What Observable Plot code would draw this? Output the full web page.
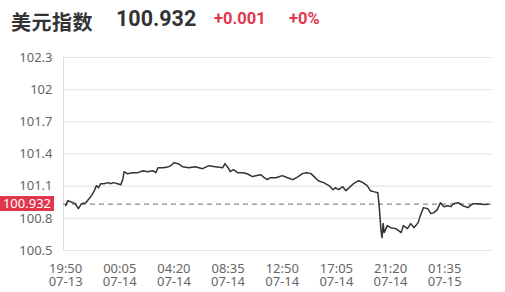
<!DOCTYPE html>
<html>
<head>
<meta charset="utf-8">
<script src="https://cdn.jsdelivr.net/npm/d3@7"></script>
<script src="https://cdn.jsdelivr.net/npm/@observablehq/plot@0.6"></script>
<style>
  html, body { margin: 0; padding: 0; background: #fff; }
  #wrap { position: relative; width: 505px; height: 292px; overflow: hidden; }
  #header { position: relative; height: 40px; }
  #header span { position: absolute; white-space: nowrap; }
  .t1 { left: 11px; top: 7px; font: bold 20px "Noto Sans CJK SC", sans-serif; color: #333; letter-spacing: 0.5px; }
  .t2 { left: 116px; top: 6px; font: bold 21.5px Roboto, sans-serif; color: #333; }
  .t3 { left: 214px; top: 9px; font: bold 16.5px Roboto, sans-serif; color: #e2364c; }
  .t4 { left: 289px; top: 9px; font: bold 16.5px Roboto, sans-serif; color: #e2364c; }
  #tag { position: absolute; left: 0; width: 54px; height: 15px; background: #e2364c; color: #fff;
         font: 13px "Noto Sans", sans-serif; line-height: 15px; text-align: center; }
</style>
</head>
<body>
<div id="wrap">
  <div id="header">
    <span class="t1">美元指数</span>
    <span class="t2">100.932</span>
    <span class="t3">+0.001</span>
    <span class="t4">+0%</span>
  </div>
  <div id="chart"></div>
  <div id="tag">100.932</div>
</div>
<script>
// minutes since 07-13 19:50
const minutes = [0,10,35,45,60,75,95,110,125,135,145,155,165,180,200,210,225,245,260,270,275,290,315,340,365,385,410,425,435,460,485,495,510,530,550,580,610,645,675,705,740,750,765,775,790,810,835,855,880,895,920,935,950,965,990,1020,1045,1070,1095,1115,1135,1155,1170,1190,1215,1240,1260,1270,1285,1305,1320,1335,1355,1380,1400,1420,1435,1450,1470,1475,1480,1485,1490,1495,1500,1515,1530,1555,1580,1590,1610,1625,1640,1660,1670,1685,1705,1720,1735,1750,1765,1780,1800,1815,1825,1850,1870,1895,1905,1920,1945,1970,1990];
const values = [100.918,100.965,100.946,100.937,100.890,100.937,100.946,100.983,101.021,101.058,101.105,101.086,101.123,101.123,101.133,101.123,101.133,101.123,101.114,101.170,101.235,101.216,101.226,101.226,101.244,101.235,101.244,101.226,101.272,101.272,101.282,101.291,101.319,101.310,101.282,101.272,101.282,101.263,101.291,101.282,101.272,101.310,101.272,101.235,101.254,101.226,101.226,101.216,101.189,101.198,101.207,101.179,101.161,101.179,101.179,101.198,101.179,101.161,101.189,101.217,101.226,101.217,101.189,101.151,101.133,101.105,101.067,101.086,101.067,101.095,101.058,101.086,101.123,101.151,101.133,101.105,101.058,101.049,101.039,100.946,100.825,100.685,100.620,100.751,100.667,100.732,100.713,100.704,100.667,100.732,100.704,100.751,100.713,100.760,100.825,100.900,100.890,100.844,100.853,100.881,100.946,100.909,100.918,100.909,100.937,100.946,100.918,100.900,100.918,100.937,100.937,100.928,100.932];
const refValue = 100.932;
const yTicks = [100.5, 100.8, 101.1, 101.4, 101.7, 102, 102.3];
const xTickMinutes = [0, 255, 510, 765, 1020, 1275, 1530, 1785];
const xTickLabels = ["19:50\n07-13","00:05\n07-14","04:20\n07-14","08:35\n07-14","12:50\n07-14","17:05\n07-14","21:20\n07-14","01:35\n07-15"];

const start = new Date(2023, 6, 13, 19, 50);
const toDate = m => new Date(start.getTime() + m * 60000);
const data = minutes.map((m, i) => ({t: toDate(m), v: values[i]}));
const xTicks = xTickMinutes.map(toDate);
const labelOf = new Map(xTicks.map((d, i) => [+d, xTickLabels[i]]));
const xDomain = [toDate(-10), toDate(2010)];

const chart = Plot.plot({
  width: 505,
  height: 252,
  marginLeft: 63,
  marginRight: 13,
  marginTop: 17,
  marginBottom: 42,
  style: {fontFamily: "'Noto Sans', sans-serif", fontSize: "13px", color: "#666", background: "#fff"},
  x: {type: "time", domain: xDomain, label: null},
  y: {domain: [100.5, 102.3], label: null},
  marks: [
    Plot.gridY(yTicks, {stroke: "#e3e3e3", strokeOpacity: 1, strokeWidth: 1}),
    Plot.ruleX([xDomain[0]], {stroke: "#dcdcdc", strokeWidth: 1}),
    Plot.axisY(yTicks, {label: null, tickSize: 0, tickPadding: 11, tickFormat: d => String(+d.toFixed(1)), fill: "#666", fontSize: 13}),
    Plot.axisX(xTicks, {label: null, tickSize: 0, tickPadding: 13, tickFormat: d => labelOf.get(+d), lineHeight: 1, fill: "#666", fontSize: 13}),
    Plot.ruleY([refValue], {stroke: "#888", strokeWidth: 1.2, strokeDasharray: "5,4"}),
    Plot.line(data, {x: "t", y: "v", stroke: "#333", strokeWidth: 1.5})
  ]
});
document.getElementById("chart").appendChild(chart);
const yPix = chart.scale("y").apply(refValue);
document.getElementById("tag").style.top = (40 + yPix - 8) + "px";
</script>
</body>
</html>
